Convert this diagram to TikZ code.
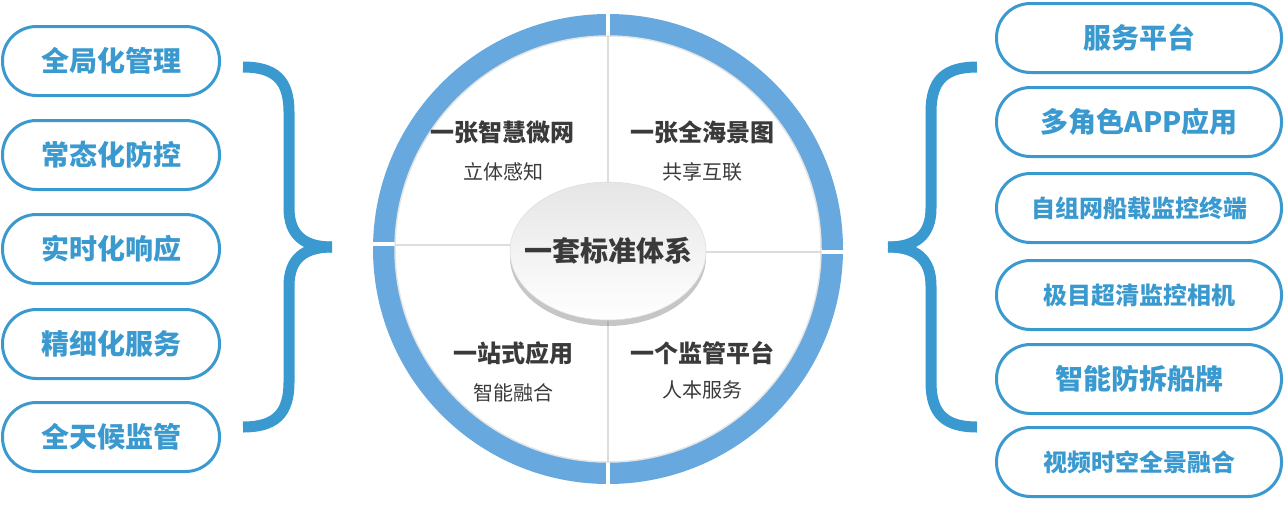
\documentclass[tikz,border=0pt]{standalone}
\usepackage{fontspec}
\newfontfamily\cjk[BoldFont={Noto Sans CJK SC Black}]{Noto Sans CJK SC}
\usetikzlibrary{shapes.geometric,shadows}

% Colori
\definecolor{boxBlue}{HTML}{3A9ACF}
\definecolor{ringBlue}{HTML}{67A9DE}
\definecolor{textDark}{HTML}{3A3A3A}
\definecolor{divGray}{HTML}{DDDDDD}

\tikzset{
  pill/.style={draw=boxBlue, line width=3pt, rounded corners=34pt, fill=white,
    minimum height=69pt, inner sep=0pt, text=boxBlue,
    font=\cjk\bfseries\fontsize{28}{28}\selectfont},
  pillL/.style={pill, minimum width=217pt},
  pillR/.style={pill, minimum width=285pt},
  smalltxt/.style={font=\cjk\bfseries\fontsize{24}{24}\selectfont},
  brace/.style={draw=boxBlue, line width=11pt},
  quadTitle/.style={text=textDark, font=\cjk\bfseries\fontsize{24}{24}\selectfont},
  quadSub/.style={text=textDark, font=\cjk\fontsize{20}{20}\selectfont},
  divider/.style={draw=divGray, line width=2pt},
  core/.style={ellipse, minimum width=196pt, minimum height=138pt, inner sep=0pt,
    top color=gray!20, bottom color=white, draw=gray!25, line width=0.6pt,
    drop shadow={shadow xshift=0pt, shadow yshift=-6pt, opacity=0.45}},
  coreText/.style={text=textDark, font=\cjk\bfseries\fontsize{28}{28}\selectfont},
}

\begin{document}
\begin{tikzpicture}[x=1pt, y=-1pt]
\useasboundingbox (0,0) rectangle (1284,504);

% Anello
\fill[ringBlue, even odd rule] (608,249) circle (235pt) (608,249) circle (213pt);
\draw[white, line width=4pt] (608,8) -- (608,40) (608,458) -- (608,490)
  (370,244) -- (398,244) (818,252) -- (846,252);
\draw[gray!20, line width=1.5pt] (608,249) circle (213pt);

% Divisori
\coordinate (mid) at (608,251);
\coordinate (dTop) at (608,36);
\coordinate (dBot) at (608,462);
\coordinate (dLeft) at (395,245);
\coordinate (dRight) at (821,252);
\draw[divider] (dTop) -- (dTop |- mid);
\draw[divider] (dBot) -- (dBot |- mid);
\draw[divider] (dLeft) -- (dLeft -| mid);
\draw[divider] (dRight) -- (dRight -| mid);

% Centro
\node[core] (core) at (608,251) {};
\node[coreText] (coreLbl) at (core.center) {一套标准体系};

% Quadranti
\node[quadTitle] (q1) at (502,132) {一张智慧微网};
\node[quadSub] (q1s) at (503,172) {立体感知};
\node[quadTitle] (q2) at (702,132) {一张全海景图};
\node[quadSub] (q2s) at (702,172) {共享互联};
\node[quadTitle] (q3) at (513,353) {一站式应用};
\node[quadSub] (q3s) at (513,393) {智能融合};
\node[quadTitle] (q4) at (702,353) {一个监管平台};
\node[quadSub] (q4s) at (702,390) {人本服务};

% Colonna sinistra
\node[pillL] (l1) at (111,61) {全局化管理};
\node[pillL] (l2) at (111,155) {常态化防控};
\node[pillL] (l3) at (111,249) {实时化响应};
\node[pillL] (l4) at (111,344) {精细化服务};
\node[pillL] (l5) at (111,437) {全天候监管};

% Colonna destra
\node[pillR] (r1) at (1139,38) {服务平台};
\node[pillR] (r2) at (1139,122) {多角色APP应用};
\node[pillR, smalltxt] (r3) at (1139,208) {自组网船载监控终端};
\node[pillR, smalltxt] (r4) at (1139,295) {极目超清监控相机};
\node[pillR] (r5) at (1139,379) {智能防拆船牌};
\node[pillR, smalltxt] (r6) at (1139,462) {视频时空全景融合};

% Parentesi
\draw[brace] (243,67) .. controls (275,67) and (289,80) .. (289,112) -- (289,208)
  .. controls (289,236) and (305,247) .. (332,247);
\draw[brace] (332,247) .. controls (305,247) and (289,258) .. (289,286) -- (289,382)
  .. controls (289,414) and (275,427) .. (243,427);
\draw[brace] (977,67) .. controls (945,67) and (931,80) .. (931,112) -- (931,208)
  .. controls (931,236) and (915,247) .. (888,247);
\draw[brace] (888,247) .. controls (915,247) and (931,258) .. (931,286) -- (931,382)
  .. controls (931,414) and (945,427) .. (977,427);
\end{tikzpicture}
\end{document}
